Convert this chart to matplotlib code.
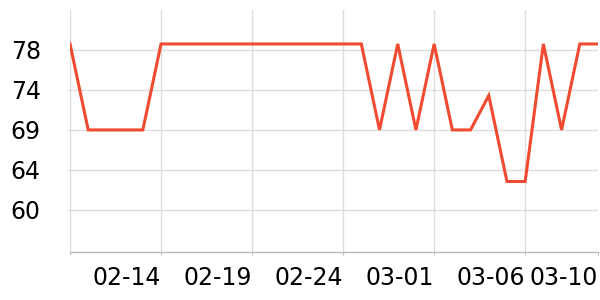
import pandas as pd
import matplotlib
matplotlib.use("Agg")
import matplotlib.pyplot as plt
import matplotlib.dates as mdates

# daily values, 02-09 .. 03-10
dates = pd.date_range("2023-02-09", "2023-03-10", freq="D")
values = [79, 69, 69, 69, 69, 79, 79, 79, 79, 79,
          79, 79, 79, 79, 79, 79, 79, 69, 79, 69,
          79, 69, 69, 73, 63, 63, 79, 69, 79, 79]

x_tick_dates = ["2023-02-09", "2023-02-14", "2023-02-19", "2023-02-24",
                "2023-03-01", "2023-03-06", "2023-03-10"]
x_tick_labels = ["", "02-14", "02-19", "02-24", "03-01", "03-06", "03-10"]
y_tick_labels = ["60", "64", "69", "74", "78"]

grid_col = "#dddddd"
line_col = "#f04b30"

fig = plt.figure(figsize=(6, 3), dpi=100)
ax = fig.add_axes([70 / 600, 48 / 300, 528 / 600, 242 / 300])

ax.plot(dates, values, color=line_col, linewidth=2.2, solid_joinstyle="miter")

# y ticks are evenly spaced, labels are rounded
step = 4.65
y_ticks = [69 + (i - 2) * step for i in range(5)]
ax.set_yticks(y_ticks)
ax.set_yticklabels(y_tick_labels)
ax.set_ylim(54.8, 82.95)

ax.set_xticks(pd.to_datetime(x_tick_dates))
ax.set_xticklabels(x_tick_labels, ha="right")
ax.set_xlim(dates[0], dates[-1])

ax.grid(True, color=grid_col, linewidth=1.0)
ax.set_axisbelow(True)
ax.get_xgridlines()[-1].set_visible(False)

for s in ["top", "right", "left"]:
    ax.spines[s].set_visible(False)
ax.spines["bottom"].set_color("#bbbbbb")
ax.spines["bottom"].set_linewidth(1.0)

ax.tick_params(axis="y", length=2, color=grid_col, pad=19, labelsize=17)
ax.tick_params(axis="x", length=2, color="#bbbbbb", pad=8, labelsize=17)

fig.savefig("out.png", dpi=100)
